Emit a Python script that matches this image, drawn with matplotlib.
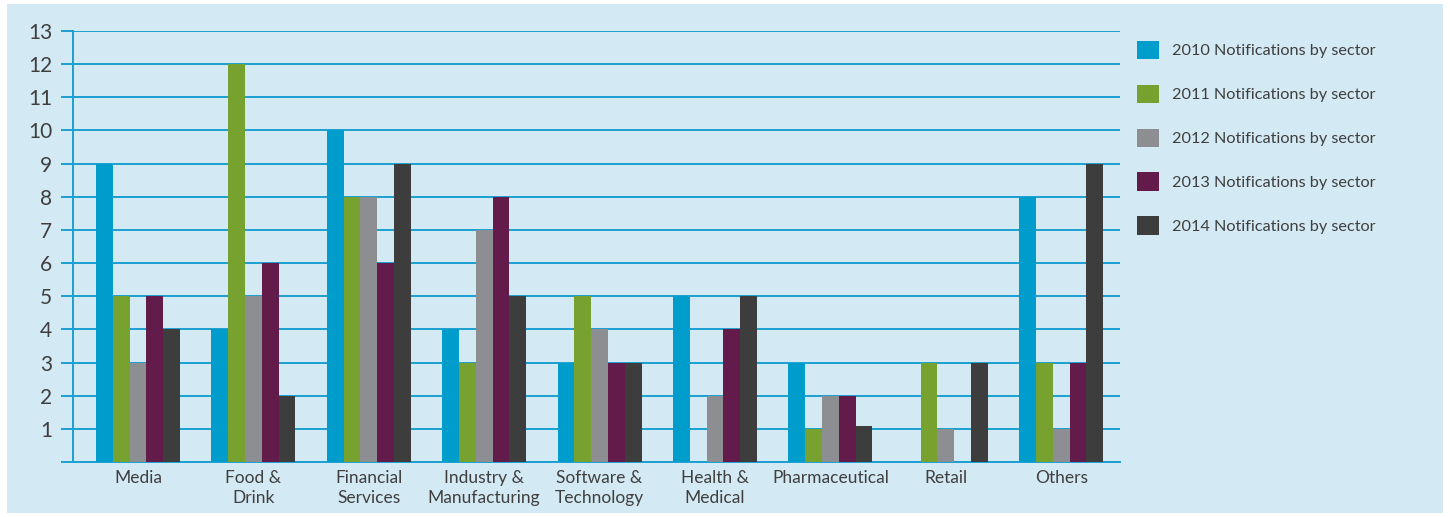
import matplotlib.pyplot as plt
import numpy as np
from matplotlib.patches import Rectangle

plt.rcParams["font.family"] = ["Lato", "DejaVu Sans"]

# data
sectors = ["Media", "Food &\nDrink", "Financial\nServices", "Industry &\nManufacturing",
           "Software &\nTechnology", "Health &\nMedical", "Pharmaceutical", "Retail", "Others"]
years = ["2010", "2011", "2012", "2013", "2014"]
v2010 = [9, 4, 10, 4, 3, 5, 3, 0, 8]
v2011 = [5, 12, 8, 3, 5, 0, 1, 3, 3]
v2012 = [3, 5, 8, 7, 4, 2, 2, 1, 1]
v2013 = [5, 6, 6, 8, 3, 4, 2, 0, 3]
v2014 = [4, 2, 9, 5, 3, 5, 1.1, 3, 9]
series = [v2010, v2011, v2012, v2013, v2014]
colors = ["#009ccc", "#78a22f", "#8d8e91", "#621b4b", "#3d3d3d"]

text_col = "#3f3f3f"
line_col = "#1aa0d2"
bg = "#d3e9f3"

fig = plt.figure(figsize=(14.5, 5.17), dpi=100, facecolor="white")
fig.patches.append(Rectangle((7 / 1450, 4 / 517), 1436 / 1450, 509 / 517,
                             transform=fig.transFigure, facecolor=bg,
                             edgecolor="none", zorder=-10))

ax = fig.add_axes([73 / 1450, 55 / 517, 1047 / 1450, 431 / 517])
ax.set_facecolor("none")
ax.set_zorder(2)

x = np.arange(len(sectors))
w = 0.1455
for i, (vals, c, yr) in enumerate(zip(series, colors, years)):
    ax.bar(x + (i - 2) * w, vals, width=w, color=c, zorder=3,
           label=yr + " Notifications by sector")

ax.set_xlim(-0.563, 8.51)
ax.set_ylim(0, 13)
ax.set_yticks(range(0, 14))
ax.set_yticklabels([""] + [str(i) for i in range(1, 14)])
ax.grid(axis="y", color=line_col, linewidth=1.4, zorder=1)
ax.set_axisbelow(True)

ax.set_xticks(x)
ax.set_xticklabels(sectors, fontsize=12.5, color=text_col, linespacing=1.25)
ax.tick_params(axis="x", length=0, pad=6)
ax.tick_params(axis="y", length=9, width=1.4, color=line_col, labelsize=15,
               labelcolor=text_col, pad=6)

for s in ["top", "right"]:
    ax.spines[s].set_visible(False)
ax.spines["left"].set_color(line_col)
ax.spines["left"].set_linewidth(1.4)
ax.spines["bottom"].set_color(line_col)
ax.spines["bottom"].set_linewidth(1.4)

leg = fig.legend(loc="upper left", bbox_to_anchor=(1122 / 1450, 1 - 26 / 517),
                 frameon=False, fontsize=11.7, handlelength=1.4, handleheight=1.4,
                 labelspacing=1.55, handletextpad=0.75, labelcolor=text_col)

plt.savefig("out.png", dpi=100, facecolor="white")
